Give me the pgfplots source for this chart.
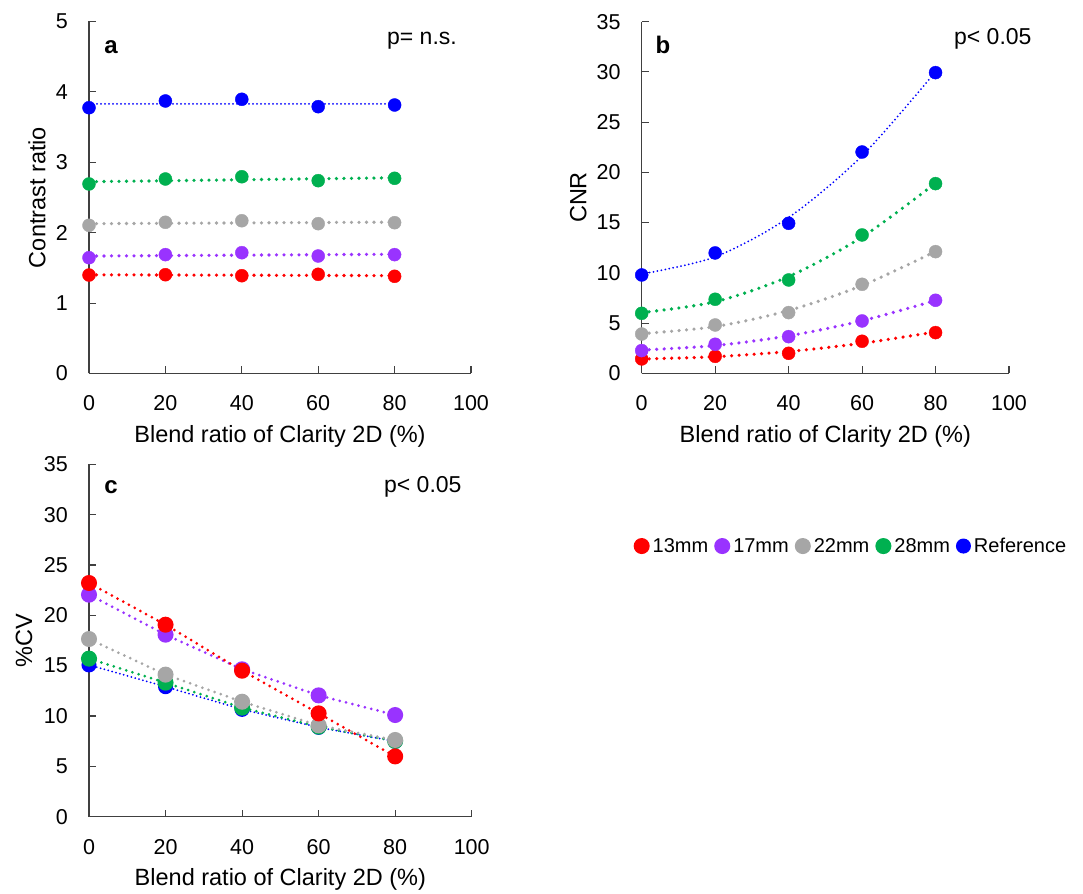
\documentclass[border=0pt]{standalone}
\usepackage{fontspec}
\setmainfont{Liberation Sans}
\usepackage{pgfplots}
\pgfplotsset{compat=1.18}

\definecolor{cRed}{HTML}{FF0000}
\definecolor{cPurple}{HTML}{9933FF}
\definecolor{cGray}{HTML}{A6A6A6}
\definecolor{cGreen}{HTML}{00B050}
\definecolor{cBlue}{HTML}{0000FF}
\definecolor{axgray}{HTML}{404040}

\pgfplotsset{
  panel/.style={
    scale only axis, anchor=south west, clip=false,
    axis x line*=bottom, axis y line*=left,
    axis line style={axgray, line width=1.1pt},
    tick style={axgray, line width=1.1pt},
    tick align=inside, major tick length=7pt,
    xmin=0, xmax=100, xtick={0,20,...,100},
    /pgf/number format/assume math mode=true,
    tick label style={font=\fontsize{21.5}{24}\selectfont, inner sep=0pt},
    xticklabel style={anchor=center, yshift=-30pt},
    yticklabel style={anchor=east, xshift=-21pt},
    every axis x label/.style={at={(axis description cs:0.5,0)}, anchor=center, yshift=-63pt,
      font=\fontsize{23.5}{26}\selectfont},
    xlabel={Blend ratio of Clarity 2D (\%)},
  },
  ylab/.style={every axis y label/.style={at={(axis description cs:#1,0.5)}, rotate=90,
      anchor=center, font=\fontsize{23.5}{26}\selectfont}},
  dat/.style={only marks, mark=*, mark size=6.5pt, color=#1},
  thick dot/.style={color=#1, line width=3.6pt, line cap=round, dash pattern=on 0pt off 7.5pt},
  thin dot/.style={color=#1, line width=2pt, line cap=round, dash pattern=on 0pt off 4pt},
  cvline/.style={color=#1, line width=3pt, line cap=round, dash pattern=on 0pt off 6.5pt,
    mark=*, mark size=6.5pt, mark options={solid}},
}

\begin{document}
\begin{tikzpicture}
\path (0pt,0pt) rectangle (1083pt,891pt);

% ---- panel a: contrast ratio
\begin{axis}[panel, at={(89pt,517.5pt)}, width=382pt, height=352pt,
    ymin=0, ymax=5, ytick={0,1,...,5},
    ylab=-0.136, ylabel={Contrast ratio}]
  \addplot[thick dot=cRed] coordinates {(0,1.402) (80,1.390)};
  \addplot[thick dot=cPurple] coordinates {(0,1.668) (80,1.694)};
  \addplot[thick dot=cGray] coordinates {(0,2.128) (80,2.150)};
  \addplot[thick dot=cGreen] coordinates {(0,2.724) (80,2.780)};
  \addplot[thin dot=cBlue] coordinates {(0,3.83) (80,3.83)};
  \addplot[dat=cRed] coordinates {(0,1.399) (20,1.403) (40,1.389) (60,1.409) (80,1.381)};
  \addplot[dat=cPurple] coordinates {(0,1.645) (20,1.688) (40,1.716) (60,1.669) (80,1.688)};
  \addplot[dat=cGray] coordinates {(0,2.105) (20,2.148) (40,2.170) (60,2.128) (80,2.142)};
  \addplot[dat=cGreen] coordinates {(0,2.692) (20,2.763) (40,2.795) (60,2.739) (80,2.773)};
  \addplot[dat=cBlue] coordinates {(0,3.775) (20,3.871) (40,3.895) (60,3.790) (80,3.814)};
\end{axis}

% ---- panel b: CNR
\begin{axis}[panel, at={(641.7pt,517.7pt)}, width=367.3pt, height=351.6pt,
    ymin=0, ymax=35, ytick={0,5,...,35},
    ylab=-0.173, ylabel={CNR}]
  \addplot[thick dot=cRed, smooth] coordinates {(0,1.42) (20,1.65) (40,2.17) (60,2.99) (80,4.12)};
  \addplot[thick dot=cPurple, smooth] coordinates {(0,2.31) (20,2.76) (40,3.73) (60,5.23) (80,7.25)};
  \addplot[thick dot=cGray, smooth] coordinates {(0,3.95) (20,4.65) (40,6.25) (60,8.74) (80,12.13)};
  \addplot[thick dot=cGreen, smooth] coordinates {(0,6.04) (20,7.12) (40,9.63) (60,13.57) (80,18.93)};
  \addplot[thin dot=cBlue, smooth] coordinates {(0,9.89) (20,11.59) (40,15.51) (60,21.65) (80,30.02)};
  \addplot[dat=cRed] coordinates {(0,1.43) (20,1.69) (40,1.99) (60,3.19) (80,4.05)};
  \addplot[dat=cPurple] coordinates {(0,2.26) (20,2.89) (40,3.65) (60,5.21) (80,7.27)};
  \addplot[dat=cGray] coordinates {(0,3.91) (20,4.81) (40,6.04) (60,8.86) (80,12.11)};
  \addplot[dat=cGreen] coordinates {(0,5.97) (20,7.37) (40,9.29) (60,13.77) (80,18.88)};
  \addplot[dat=cBlue] coordinates {(0,9.79) (20,11.98) (40,14.93) (60,22.03) (80,29.93)};
\end{axis}

% ---- panel c: %CV (with the shared legend)
\begin{axis}[panel, at={(89pt,74.3pt)}, width=382.7pt, height=352.4pt,
    ymin=0, ymax=35, ytick={0,5,...,35},
    ylab=-0.17, ylabel={\%CV},
    reverse legend,
    legend image code/.code={\fill[#1, solid] (0pt,0pt) circle (6.5pt);},
    legend style={at={(axis description cs:1.991,0.768)}, anchor=center,
      draw=none, fill=none, legend columns=5,
      font=\fontsize{20}{22}\selectfont,
      /tikz/every odd column/.append style={column sep=1pt},
      /tikz/every even column/.append style={column sep=4pt}}]
  \addplot[cvline=cBlue, line width=2pt, dash pattern=on 0pt off 4pt] coordinates {(0,15.07) (20,12.91) (40,10.66) (60,8.87) (80,7.48)};
  \addplot[cvline=cGreen] coordinates {(0,15.70) (20,13.31) (40,10.83) (60,8.94) (80,7.52)};
  \addplot[cvline=cGray] coordinates {(0,17.65) (20,14.11) (40,11.42) (60,9.07) (80,7.62)};
  \addplot[cvline=cPurple] coordinates {(0,22.05) (20,18.08) (40,14.64) (60,12.05) (80,10.10)};
  \addplot[cvline=cRed] coordinates {(0,23.21) (20,19.07) (40,14.50) (60,10.26) (80,5.99)};
  \legend{Reference,28mm,22mm,17mm,13mm}
\end{axis}

% panel letters and p-values
\node[font=\bfseries\fontsize{24}{26}\selectfont] at (111pt,844.3pt) {a};
\node[font=\bfseries\fontsize{24}{26}\selectfont] at (663pt,846pt) {b};
\node[font=\bfseries\fontsize{24}{26}\selectfont] at (111pt,404.3pt) {c};
\node[font=\fontsize{23}{25}\selectfont, anchor=base east, inner sep=0pt] at (457pt,846pt) {p= n.s.};
\node[font=\fontsize{23}{25}\selectfont, anchor=base east, inner sep=0pt] at (1031.7pt,846pt) {p< 0.05};
\node[font=\fontsize{23}{25}\selectfont, anchor=base east, inner sep=0pt] at (461.7pt,398.3pt) {p< 0.05};
\end{tikzpicture}
\end{document}
